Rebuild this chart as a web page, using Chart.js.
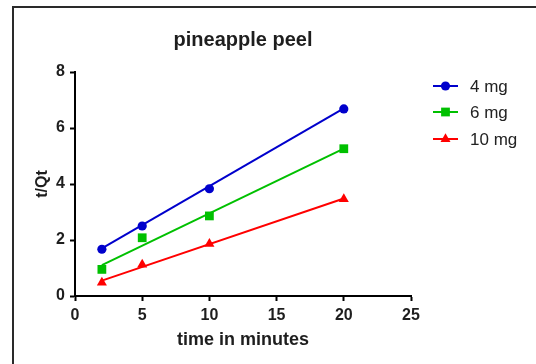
<!DOCTYPE html>
<html>
<head>
<meta charset="utf-8">
<script src="https://cdn.jsdelivr.net/npm/chart.js@4/dist/chart.umd.min.js"></script>
<style>
  html, body { margin: 0; padding: 0; background: #fff; }
  #myChart { display: block; }
</style>
</head>
<body>
<canvas id="myChart" width="536" height="364"></canvas>
<script>
// measured t/Qt values at each sampling time
const times = [2, 5, 10, 20]
const qt4mg = [1.67, 2.5, 3.83, 6.68]
const qt6mg = [0.95, 2.08, 2.86, 5.26]
const qt10mg = [0.48, 1.12, 1.86, 3.46]

// straight fit lines, start and end values
const fitTimes = [2, 20]
const fit4mg = [1.7, 6.7]
const fit6mg = [1.1, 5.26]
const fit10mg = [0.55, 3.48]

const xTicks = [0, 5, 10, 15, 20, 25]
const yTicks = [0, 2, 4, 6, 8]
const seriesNames = ['4 mg', '6 mg', '10 mg']

const FONT = "'Liberation Sans', Arial, sans-serif"
const colors = ['#0000cc', '#00c000', '#ff0000']
const markers = [
  { pointStyle: 'circle', radius: 4.6 },
  { pointStyle: 'rect', radius: 6.2 },
  { pointStyle: 'triangle', radius: 5.8 }
]

const toPoints = (xs, ys) => xs.map((x, i) => ({ x: x, y: ys[i] }))

const pointSets = [qt4mg, qt6mg, qt10mg].map((vals, i) => ({
  label: seriesNames[i],
  data: toPoints(times, vals),
  showLine: false,
  pointStyle: markers[i].pointStyle,
  pointRadius: markers[i].radius,
  backgroundColor: colors[i],
  borderColor: colors[i],
  borderWidth: 0
}))

const lineSets = [fit4mg, fit6mg, fit10mg].map((vals, i) => ({
  label: seriesNames[i] + ' fit',
  data: toPoints(fitTimes, vals),
  showLine: true,
  pointRadius: 0,
  borderColor: colors[i],
  borderWidth: 2,
  fill: false
}))

// white page with the open frame on the left and top
const framePlugin = {
  id: 'frame',
  beforeDraw(chart) {
    const ctx = chart.ctx
    ctx.save()
    ctx.fillStyle = '#fff'
    ctx.fillRect(0, 0, chart.width, chart.height)
    ctx.strokeStyle = '#2a2a2a'
    ctx.lineWidth = 2
    ctx.beginPath()
    ctx.moveTo(13, chart.height)
    ctx.lineTo(13, 7)
    ctx.lineTo(chart.width, 7)
    ctx.stroke()
    ctx.restore()
  }
}

// legend with a short line through each marker
const legendPlugin = {
  id: 'lineLegend',
  afterDraw(chart) {
    const ctx = chart.ctx
    const x0 = 433, x1 = 458, rowY = [86, 112, 139]
    ctx.save()
    seriesNames.forEach((name, i) => {
      const y = rowY[i]
      ctx.strokeStyle = colors[i]
      ctx.lineWidth = 2
      ctx.beginPath()
      ctx.moveTo(x0, y)
      ctx.lineTo(x1, y)
      ctx.stroke()
      ctx.fillStyle = colors[i]
      ctx.strokeStyle = colors[i]
      Chart.helpers.drawPoint(ctx, {
        pointStyle: markers[i].pointStyle,
        radius: markers[i].radius,
        rotation: 0,
        borderWidth: 0
      }, (x0 + x1) / 2, y)
      ctx.fillStyle = '#222'
      ctx.font = '17px ' + FONT
      ctx.textBaseline = 'middle'
      ctx.fillText(name, 470, y + 1)
    })
    ctx.restore()
  }
}

const ctx = document.getElementById('myChart').getContext('2d')
new Chart(ctx, {
  type: 'scatter',
  data: { datasets: lineSets.concat(pointSets) },
  plugins: [framePlugin, legendPlugin],
  options: {
    responsive: false,
    animation: false,
    devicePixelRatio: 1,
    layout: { padding: { left: 0, right: 125, top: 0, bottom: 0 } },
    plugins: {
      legend: { display: false },
      tooltip: { enabled: false },
      title: {
        display: true,
        text: 'pineapple peel',
        fullSize: false,
        color: '#1e1e1e',
        font: { family: FONT, size: 20, weight: 'bold' },
        padding: { top: 28, bottom: 20 }
      }
    },
    scales: {
      x: {
        type: 'linear',
        min: 0,
        max: 25,
        afterBuildTicks: (scale) => { scale.ticks = xTicks.map(v => ({ value: v })) },
        afterFit: (scale) => { scale.height = 68 },
        border: { display: true, color: '#000', width: 2 },
        grid: { drawOnChartArea: false, drawTicks: true, tickLength: 5, tickColor: '#000', tickWidth: 2 },
        ticks: { color: '#1e1e1e', padding: 5, font: { family: FONT, size: 16, weight: 'bold' } },
        title: {
          display: true,
          text: 'time in minutes',
          color: '#1e1e1e',
          font: { family: FONT, size: 18, weight: 'bold' },
          padding: { top: 0, bottom: 13 }
        }
      },
      y: {
        type: 'linear',
        min: 0,
        max: 8,
        afterBuildTicks: (scale) => { scale.ticks = yTicks.map(v => ({ value: v })) },
        afterFit: (scale) => { scale.width = 75 },
        border: { display: true, color: '#000', width: 2 },
        grid: { drawOnChartArea: false, drawTicks: true, tickLength: 5, tickColor: '#000', tickWidth: 2 },
        ticks: { color: '#1e1e1e', padding: 5, font: { family: FONT, size: 16, weight: 'bold' } },
        title: {
          display: true,
          text: 't/Qt',
          color: '#1e1e1e',
          font: { family: FONT, size: 16, weight: 'bold' },
          padding: { top: 33, bottom: 0 }
        }
      }
    }
  }
})
</script>
</body>
</html>
